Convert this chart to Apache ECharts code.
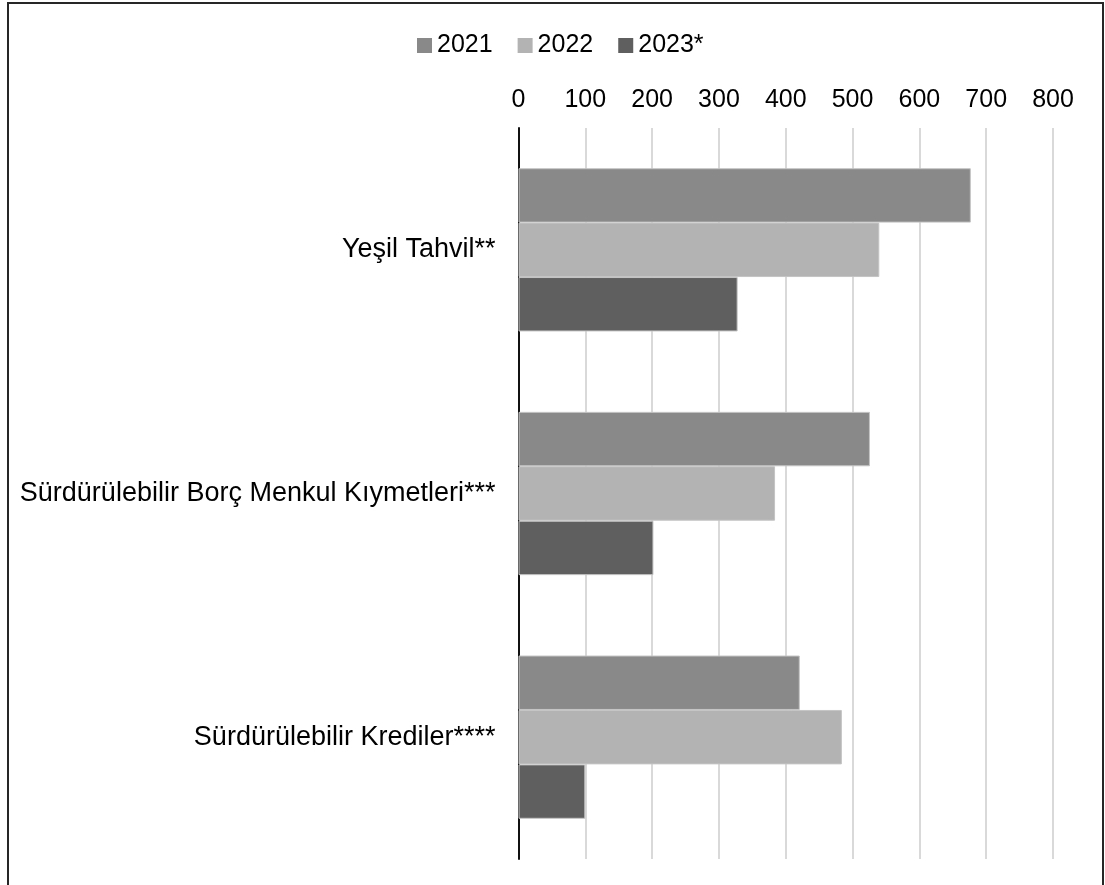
<!DOCTYPE html>
<html>
<head>
<meta charset="utf-8">
<style>
  html, body { margin: 0; padding: 0; background: #fff; }
  #chart { width: 1105px; height: 885px; }
</style>
<script src="https://cdn.jsdelivr.net/npm/echarts@6/dist/echarts.min.js"></script>
</head>
<body>
<div id="chart"></div>
<script>
// Categories (top to bottom)
const categories = [
  'Yeşil Tahvil**',
  'Sürdürülebilir Borç Menkul Kıymetleri***',
  'Sürdürülebilir Krediler****'
];

// Series names
const seriesNames = ['2021', '2022', '2023*'];

// Values per year, in category order
const values2021 = [677, 526, 421];
const values2022 = [540, 384, 484];
const values2023 = [328, 202, 100];

// Value axis ticks
const axisMin = 0;
const axisMax = 800;
const axisStep = 100;

const seriesValues = [values2021, values2022, values2023];
const seriesColors = ['#898989', '#b3b3b3', '#5f5f5f'];

const FONT = '"Liberation Sans", Arial, sans-serif';

const chart = echarts.init(document.getElementById('chart'), null, { renderer: 'canvas' });

chart.setOption({
  backgroundColor: '#ffffff',
  animation: false,
  textStyle: { fontFamily: FONT, color: '#000' },
  graphic: [
    {
      type: 'rect',
      z: 100,
      silent: true,
      shape: { x: 8, y: 3, width: 1095, height: 900 },
      style: { fill: 'none', stroke: '#262626', lineWidth: 2 }
    }
  ],
  legend: {
    top: 28,
    left: 412,
    itemWidth: 15,
    itemHeight: 15,
    itemGap: 25,
    icon: 'rect',
    itemStyle: { borderWidth: 0 },
    textStyle: { fontFamily: FONT, fontSize: 25, color: '#000' },
    data: seriesNames
  },
  grid: {
    left: 518.5,
    right: 52,
    top: 128,
    bottom: 26,
    containLabel: false
  },
  xAxis: {
    type: 'value',
    position: 'top',
    min: axisMin,
    max: axisMax,
    interval: axisStep,
    axisLine: { show: false },
    axisTick: { show: false },
    axisLabel: {
      margin: 15,
      fontFamily: FONT,
      fontSize: 25,
      color: '#000'
    },
    splitLine: { show: true, lineStyle: { color: '#d9d9d9', width: 2 } }
  },
  yAxis: {
    type: 'category',
    data: categories,
    inverse: true,
    axisLine: { show: true, lineStyle: { color: '#111', width: 2 } },
    axisTick: { show: false },
    axisLabel: {
      margin: 23,
      fontFamily: FONT,
      fontSize: 27,
      color: '#000'
    }
  },
  series: seriesNames.map((name, i) => ({
    name: name,
    type: 'bar',
    data: seriesValues[i],
    barGap: '0%',
    barCategoryGap: '33%',
    itemStyle: {
      color: seriesColors[i],
      borderColor: '#c4c4c4',
      borderWidth: 1
    }
  }))
});
</script>
</body>
</html>
